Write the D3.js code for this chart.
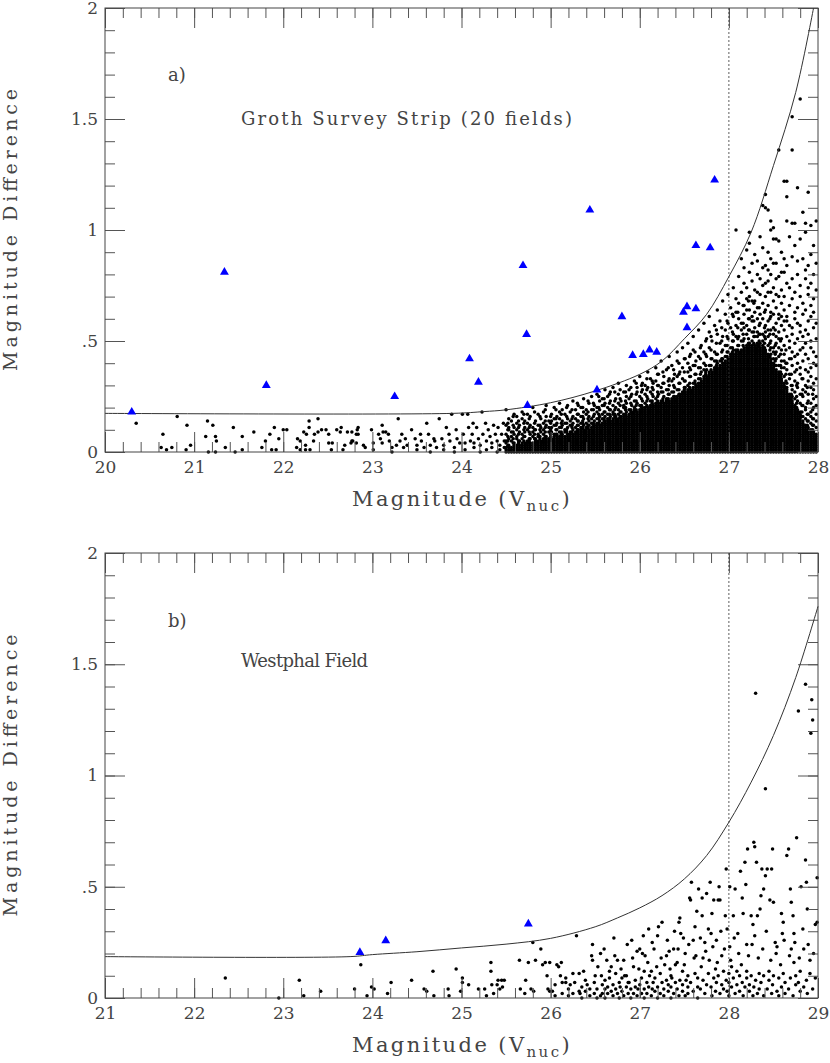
<!DOCTYPE html>
<html>
<head>
<meta charset="utf-8">
<script src="https://cdn.jsdelivr.net/npm/d3@7"></script>
<style>
  body { margin: 0; background: #fff; }
  svg { display: block; }
</style>
</head>
<body>
<svg id="svg1" width="830" height="1063"></svg>
<script>
// ---- data ----
// dot columns: first entry is the magnitude, the rest are the magnitude differences at that magnitude

var grothSparse = [
  [20.35,.13],[20.63,.02],[20.65,.08],[20.69,.01],[20.75,.02],[20.81,.16],[20.91,.01],[20.92,.12],[20.96,.03],
  [21.13,.07],[21.15,.14],[21.16,.00],[21.21,.12],[21.24,.07,.00],[21.25,.05],[21.35,.02],[21.44,.11],[21.46,.00],
  [21.54,.07,.01],[21.67,.09],[21.76,.02],[21.80,.05],[21.85,.08],[21.87,.01],[21.90,.11],[21.92,.01],[21.95,.06],
  [22.00,.10],[22.04,.10],[22.15,.02],[22.16,.06],[22.19,.05,.01],[22.23,.09],[22.25,.03,.01],[22.26,.08],
  [22.29,.14,.11],[22.30,.01],[22.34,.05],[22.35,.08],[22.39,.15,.09],[22.43,.10],[22.48,.10],[22.51,.08,.04],
  [22.54,.01],[22.55,.04],[22.60,.10],[22.64,.09],[22.65,.11],[22.67,.01],[22.69,.03],[22.72,.09],[22.76,.04],
  [22.77,.09,.05],[22.78,.05],[22.82,.08,.04],[22.83,.10],[22.84,.08,.11],[22.90,.03],[22.92,.02],[22.99,.10],
  [23.01,.04,.01],[23.07,.08],[23.09,.06],[23.11,.12,.04],[23.12,.09],[23.15,.09],[23.18,.08],[23.19,.05],
  [23.22,.02,.00],[23.27,.03],[23.29,.15],[23.31,.05],[23.33,.08],[23.35,.02],[23.37,.06],[23.39,.03],[23.44,.10],
  [23.48,.06],[23.50,.03,.01],[23.54,.08],[23.55,.05],[23.58,.02],[23.61,.13],[23.63,.08],[23.65,.03,.00],
  [23.69,.06],[23.70,.05],[23.72,.02],[23.75,.15],[23.78,.06],[23.80,.03,.01],[23.83,.11],[23.86,.08],[23.87,.05],
  [23.89,.17],[23.92,.02,.00],[23.94,.10],[23.95,.06],[23.98,.04],[24.01,.17],[24.02,.08],[24.04,.04,.01],
  [24.07,.17],[24.08,.11],[24.10,.05],[24.12,.08],[24.13,.13],[24.14,.02,.04],[24.17,.11],[24.19,.06],
  [24.21,.03,.00],[24.23,.18],[24.24,.08],[24.27,.13],[24.28,.05,.01],[24.30,.10],[24.32,.07],[24.34,.02,.04],
  [24.36,.12],[24.38,.08],[24.40,.05,.00],[24.41,.11],[24.43,.03,.01],[24.45,.08],[24.47,.13],[24.48,.05,.02]
];

// the crowded part: below a certain height the points overlap completely
var grothDense = [
  [24.50,.00,.01,.02,.04,.05,.08,.12,.19],
  [24.53,.00,.01,.02,.03,.06,.10,.11,.15],
  [24.56,.00,.01,.02,.05,.07,.09,.14],
  [24.59,.00,.01,.02,.03,.04,.08,.11,.17],
  [24.62,.00,.01,.02,.03,.06,.07,.10,.13,.16],
  [24.65,.00,.01,.02,.03,.05,.09,.12],
  [24.68,.00,.01,.02,.03,.04,.06,.08,.15,.18],
  [24.71,.00,.01,.02,.03,.04,.07,.09,.11,.14],
  [24.74,.00,.01,.02,.03,.04,.05,.10,.13,.17],
  [24.77,.00,.01,.02,.03,.04,.06,.08,.12,.16],
  [24.80,.00,.01,.02,.03,.04,.07,.09,.11,.20],
  [24.83,.00,.01,.02,.03,.04,.05,.06,.10,.14],
  [24.86,.00,.01,.02,.03,.04,.05,.07,.08,.12,.17],
  [24.89,.00,.01,.02,.03,.04,.05,.09,.11,.15],
  [24.92,.00,.01,.02,.03,.04,.05,.06,.08,.10,.13,.18],
  [24.95,.00,.01,.02,.03,.04,.05,.06,.07,.12,.16,.21],
  [24.98,.00,.01,.02,.03,.04,.05,.06,.09,.11,.14],
  [25.01,.00,.01,.02,.03,.04,.05,.06,.09,.11,.14,.17],
  [25.04,.00,.01,.02,.03,.04,.05,.06,.07,.08,.12,.15,.20],
  [25.07,.00,.01,.02,.03,.04,.05,.06,.07,.08,.10,.13,.16],
  [25.10,.00,.01,.02,.03,.04,.05,.06,.07,.09,.11,.15,.18,.22],
  [25.13,.00,.01,.02,.03,.04,.05,.06,.07,.08,.12,.14,.19],
  [25.16,.00,.01,.02,.03,.04,.05,.06,.07,.09,.10,.13,.17],
  [25.19,.00,.01,.02,.03,.04,.05,.06,.07,.08,.11,.15,.21],
  [25.22,.00,.01,.02,.03,.04,.05,.06,.07,.08,.09,.12,.14,.18],
  [25.25,.00,.01,.02,.03,.04,.05,.06,.07,.08,.10,.13,.16,.23],
  [25.28,.00,.01,.02,.03,.04,.05,.06,.07,.08,.09,.11,.15,.19],
  [25.31,.00,.01,.02,.03,.04,.05,.06,.07,.08,.09,.10,.12,.14,.17,.21],
  [25.34,.00,.01,.02,.03,.04,.05,.06,.07,.08,.09,.10,.11,.13,.16,.20],
  [25.37,.00,.01,.02,.03,.04,.05,.06,.07,.08,.09,.10,.12,.15,.18,.24],
  [25.40,.00,.01,.02,.03,.04,.05,.06,.07,.08,.09,.10,.11,.13,.17,.19],
  [25.43,.00,.01,.02,.03,.04,.05,.06,.07,.08,.09,.10,.12,.14,.16,.22],
  [25.46,.00,.01,.02,.03,.04,.05,.06,.07,.08,.09,.10,.11,.13,.15,.19,.25],
  [25.49,.00,.01,.02,.03,.04,.05,.06,.07,.08,.09,.10,.11,.12,.14,.17,.21],
  [25.52,.00,.01,.02,.03,.04,.05,.06,.07,.08,.09,.10,.11,.12,.13,.15,.18,.20,.26],
  [25.55,.00,.01,.02,.03,.04,.05,.06,.07,.08,.09,.10,.11,.12,.14,.16,.19,.23],
  [25.58,.00,.01,.02,.03,.04,.05,.06,.07,.08,.09,.10,.11,.12,.13,.15,.17,.21,.24],
  [25.61,.00,.01,.02,.03,.04,.05,.06,.07,.08,.09,.10,.11,.12,.13,.14,.16,.18,.22,.28],
  [25.64,.00,.01,.02,.03,.04,.05,.06,.07,.08,.09,.10,.11,.12,.13,.14,.15,.17,.20,.25],
  [25.67,.00,.01,.02,.03,.04,.05,.06,.07,.08,.09,.10,.11,.12,.13,.14,.16,.19,.23,.27],
  [25.70,.00,.01,.02,.03,.04,.05,.06,.07,.08,.09,.10,.11,.12,.13,.14,.15,.17,.18,.21,.29],
  [25.73,.00,.01,.02,.03,.04,.05,.06,.07,.08,.09,.10,.11,.12,.13,.14,.15,.16,.20,.24],
  [25.76,.00,.01,.02,.03,.04,.05,.06,.07,.08,.09,.10,.11,.12,.13,.14,.15,.17,.19,.22,.26,.31],
  [25.79,.00,.01,.02,.03,.04,.05,.06,.07,.08,.09,.10,.11,.12,.13,.14,.15,.16,.18,.23],
  [25.82,.00,.01,.02,.03,.04,.05,.06,.07,.08,.09,.10,.11,.12,.13,.14,.15,.16,.17,.20,.21,.27],
  [25.85,.00,.01,.02,.03,.04,.05,.06,.07,.08,.09,.10,.11,.12,.13,.14,.15,.16,.18,.22,.25,.30],
  [25.88,.00,.01,.02,.03,.04,.05,.06,.07,.08,.09,.10,.11,.12,.13,.14,.15,.16,.17,.19,.24,.28],
  [25.91,.00,.01,.02,.03,.04,.05,.06,.07,.08,.09,.10,.11,.12,.13,.14,.15,.16,.17,.18,.21,.26],
  [25.94,.00,.01,.02,.03,.04,.05,.06,.07,.08,.09,.10,.11,.12,.13,.14,.15,.16,.17,.18,.19,.20,.23,.32],
  [25.97,.00,.01,.02,.03,.04,.05,.06,.07,.08,.09,.10,.11,.12,.13,.14,.15,.16,.17,.18,.22,.27,.29],
  [26.00,.00,.01,.02,.03,.04,.05,.06,.07,.08,.09,.10,.11,.12,.13,.14,.15,.16,.17,.18,.19,.21,.25,.34],
  [26.03,.00,.01,.02,.03,.04,.05,.06,.07,.08,.09,.10,.11,.12,.13,.14,.15,.16,.17,.18,.19,.20,.23,.28,.31],
  [26.06,.00,.01,.02,.03,.04,.05,.06,.07,.08,.09,.10,.11,.12,.13,.14,.15,.16,.17,.18,.19,.20,.22,.26,.30],
  [26.09,.00,.01,.02,.03,.04,.05,.06,.07,.08,.09,.10,.11,.12,.13,.14,.15,.16,.17,.18,.19,.20,.24,.29,.36],
  [26.12,.00,.01,.02,.03,.04,.05,.06,.07,.08,.09,.10,.11,.12,.13,.14,.15,.16,.17,.18,.19,.20,.21,.23,.27,.33],
  [26.15,.00,.01,.02,.03,.04,.05,.06,.07,.08,.09,.10,.11,.12,.13,.14,.15,.16,.17,.18,.19,.20,.21,.25,.28,.31],
  [26.18,.00,.01,.02,.03,.04,.05,.06,.07,.08,.09,.10,.11,.12,.13,.14,.15,.16,.17,.18,.19,.20,.21,.22,.24,.32,.38],
  [26.21,.00,.01,.02,.03,.04,.05,.06,.07,.08,.09,.10,.11,.12,.13,.14,.15,.16,.17,.18,.19,.20,.21,.22,.26,.30,.35],
  [26.24,.00,.01,.02,.03,.04,.05,.06,.07,.08,.09,.10,.11,.12,.13,.14,.15,.16,.17,.18,.19,.20,.21,.22,.23,.27,.29,.41],
  [26.27,.00,.01,.02,.03,.04,.05,.06,.07,.08,.09,.10,.11,.12,.13,.14,.15,.16,.17,.18,.19,.20,.21,.22,.25,.31,.34],
  [26.30,.00,.01,.02,.03,.04,.05,.06,.07,.08,.09,.10,.11,.12,.13,.14,.15,.16,.17,.18,.19,.20,.21,.22,.23,.24,.28,.37],
  [26.33,.00,.01,.02,.03,.04,.05,.06,.07,.08,.09,.10,.11,.12,.13,.14,.15,.16,.17,.18,.19,.20,.21,.22,.23,.26,.30,.33,.43],
  [26.36,.00,.01,.02,.03,.04,.05,.06,.07,.08,.09,.10,.11,.12,.13,.14,.15,.16,.17,.18,.19,.20,.21,.22,.23,.24,.27,.32,.39],
  [26.39,.00,.01,.02,.03,.04,.05,.06,.07,.08,.09,.10,.11,.12,.13,.14,.15,.16,.17,.18,.19,.20,.21,.22,.23,.24,.25,.29,.35],
  [26.42,.00,.01,.02,.03,.04,.05,.06,.07,.08,.09,.10,.11,.12,.13,.14,.15,.16,.17,.18,.19,.20,.21,.22,.23,.24,.25,.28,.34,.41,.45],
  [26.45,.00,.01,.02,.03,.04,.05,.06,.07,.08,.09,.10,.11,.12,.13,.14,.15,.16,.17,.18,.19,.20,.21,.22,.23,.24,.25,.26,.31,.36],
  [26.48,.00,.01,.02,.03,.04,.05,.06,.07,.08,.09,.10,.11,.12,.13,.14,.15,.16,.17,.18,.19,.20,.21,.22,.23,.24,.25,.26,.27,.33,.38,.47],
  [26.51,.00,.01,.02,.03,.04,.05,.06,.07,.08,.09,.10,.11,.12,.13,.14,.15,.16,.17,.18,.19,.20,.21,.22,.23,.24,.25,.26,.27,.29,.32,.42],
  [26.54,.00,.01,.02,.03,.04,.05,.06,.07,.08,.09,.10,.11,.12,.13,.14,.15,.16,.17,.18,.19,.20,.21,.22,.23,.24,.25,.26,.27,.28,.30,.36,.40,.49],
  [26.57,.00,.01,.02,.03,.04,.05,.06,.07,.08,.09,.10,.11,.12,.13,.14,.15,.16,.17,.18,.19,.20,.21,.22,.23,.24,.25,.26,.27,.28,.34,.37,.44],
  [26.60,.00,.01,.02,.03,.04,.05,.06,.07,.08,.09,.10,.11,.12,.13,.14,.15,.16,.17,.18,.19,.20,.21,.22,.23,.24,.25,.26,.27,.28,.29,.31,.39,.46,.52],
  [26.63,.00,.01,.02,.03,.04,.05,.06,.07,.08,.09,.10,.11,.12,.13,.14,.15,.16,.17,.18,.19,.20,.21,.22,.23,.24,.25,.26,.27,.28,.29,.30,.35,.41],
  [26.66,.00,.01,.02,.03,.04,.05,.06,.07,.08,.09,.10,.11,.12,.13,.14,.15,.16,.17,.18,.19,.20,.21,.22,.23,.24,.25,.26,.27,.28,.29,.30,.31,.33,.38,.43,.55],
  [26.69,.00,.01,.02,.03,.04,.05,.06,.07,.08,.09,.10,.11,.12,.13,.14,.15,.16,.17,.18,.19,.20,.21,.22,.23,.24,.25,.26,.27,.28,.29,.30,.31,.32,.36,.48],
  [26.72,.00,.01,.02,.03,.04,.05,.06,.07,.08,.09,.10,.11,.12,.13,.14,.15,.16,.17,.18,.19,.20,.21,.22,.23,.24,.25,.26,.27,.28,.29,.30,.31,.32,.33,.34,.37,.40,.45,.58],
  [26.75,.00,.01,.02,.03,.04,.05,.06,.07,.08,.09,.10,.11,.12,.13,.14,.15,.16,.17,.18,.19,.20,.21,.22,.23,.24,.25,.26,.27,.28,.29,.30,.31,.32,.33,.34,.37,.43,.51],
  [26.78,.00,.01,.02,.03,.04,.05,.06,.07,.08,.09,.10,.11,.12,.13,.14,.15,.16,.17,.18,.19,.20,.21,.22,.23,.24,.25,.26,.27,.28,.29,.30,.31,.32,.33,.34,.35,.36,.39,.47,.54,.61],
  [26.81,.00,.01,.02,.03,.04,.05,.06,.07,.08,.09,.10,.11,.12,.13,.14,.15,.16,.17,.18,.19,.20,.21,.22,.23,.24,.25,.26,.27,.28,.29,.30,.31,.32,.33,.34,.35,.36,.42,.50],
  [26.84,.00,.01,.02,.03,.04,.05,.06,.07,.08,.09,.10,.11,.12,.13,.14,.15,.16,.17,.18,.19,.20,.21,.22,.23,.24,.25,.26,.27,.28,.29,.30,.31,.32,.33,.34,.35,.36,.37,.38,.41,.45,.57],
  [26.87,.00,.01,.02,.03,.04,.05,.06,.07,.08,.09,.10,.11,.12,.13,.14,.15,.16,.17,.18,.19,.20,.21,.22,.23,.24,.25,.26,.27,.28,.29,.30,.31,.32,.33,.34,.35,.36,.37,.38,.40,.44,.53,.64],
  [26.90,.00,.01,.02,.03,.04,.05,.06,.07,.08,.09,.10,.11,.12,.13,.14,.15,.16,.17,.18,.19,.20,.21,.22,.23,.24,.25,.26,.27,.28,.29,.30,.31,.32,.33,.34,.35,.36,.37,.38,.39,.41,.49,.59],
  [26.93,.00,.01,.02,.03,.04,.05,.06,.07,.08,.09,.10,.11,.12,.13,.14,.15,.16,.17,.18,.19,.20,.21,.22,.23,.24,.25,.26,.27,.28,.29,.30,.31,.32,.33,.34,.35,.36,.37,.38,.39,.40,.42,.46,.52,.68],
  [26.96,.00,.01,.02,.03,.04,.05,.06,.07,.08,.09,.10,.11,.12,.13,.14,.15,.16,.17,.18,.19,.20,.21,.22,.23,.24,.25,.26,.27,.28,.29,.30,.31,.32,.33,.34,.35,.36,.37,.38,.39,.40,.41,.43,.48,.55,.62],
  [26.99,.00,.01,.02,.03,.04,.05,.06,.07,.08,.09,.10,.11,.12,.13,.14,.15,.16,.17,.18,.19,.20,.21,.22,.23,.24,.25,.26,.27,.28,.29,.30,.31,.32,.33,.34,.35,.36,.37,.38,.39,.40,.41,.42,.45,.51,.58,.71],
  [27.02,.00,.01,.02,.03,.04,.05,.06,.07,.08,.09,.10,.11,.12,.13,.14,.15,.16,.17,.18,.19,.20,.21,.22,.23,.24,.25,.26,.27,.28,.29,.30,.31,.32,.33,.34,.35,.36,.37,.38,.39,.40,.41,.42,.43,.44,.47,.56,.65],
  [27.05,.00,.01,.02,.03,.04,.05,.06,.07,.08,.09,.10,.11,.12,.13,.14,.15,.16,.17,.18,.19,.20,.21,.22,.23,.24,.25,.26,.27,.28,.29,.30,.31,.32,.33,.34,.35,.36,.37,.38,.39,.40,.41,.42,.43,.44,.46,.50,.53,.61,.74],
  [27.08,.00,.01,.02,.03,.04,.05,.06,.07,.08,.09,.10,.11,.12,.13,.14,.15,.16,.17,.18,.19,.20,.21,.22,.23,.24,.25,.26,.27,.28,.29,.30,.31,.32,.33,.34,.35,.36,.37,.38,.39,.40,.41,.42,.43,.44,.45,.46,.52,.57,.63,.69,1.00],
  [27.11,.00,.01,.02,.03,.04,.05,.06,.07,.08,.09,.10,.11,.12,.13,.14,.15,.16,.17,.18,.19,.20,.21,.22,.23,.24,.25,.26,.27,.28,.29,.30,.31,.32,.33,.34,.35,.36,.37,.38,.39,.40,.41,.42,.43,.44,.45,.48,.52,.60,.67,.79],
  [27.14,.00,.01,.02,.03,.04,.05,.06,.07,.08,.09,.10,.11,.12,.13,.14,.15,.16,.17,.18,.19,.20,.21,.22,.23,.24,.25,.26,.27,.28,.29,.30,.31,.32,.33,.34,.35,.36,.37,.38,.39,.40,.41,.42,.43,.44,.45,.46,.50,.55,.58,.72,.87],
  [27.17,.00,.01,.02,.03,.04,.05,.06,.07,.08,.09,.10,.11,.12,.13,.14,.15,.16,.17,.18,.19,.20,.21,.22,.23,.24,.25,.26,.27,.28,.29,.30,.31,.32,.33,.34,.35,.36,.37,.38,.39,.40,.41,.42,.43,.44,.45,.46,.47,.51,.56,.62,.66,.76,.83],
  [27.20,.00,.01,.02,.03,.04,.05,.06,.07,.08,.09,.10,.11,.12,.13,.14,.15,.16,.17,.18,.19,.20,.21,.22,.23,.24,.25,.26,.27,.28,.29,.30,.31,.32,.33,.34,.35,.36,.37,.38,.39,.40,.41,.42,.43,.44,.45,.46,.47,.48,.53,.57,.64,.69,.74,.91],
  [27.23,.00,.01,.02,.03,.04,.05,.06,.07,.08,.09,.10,.11,.12,.13,.14,.15,.16,.17,.18,.19,.20,.21,.22,.23,.24,.25,.26,.27,.28,.29,.30,.31,.32,.33,.34,.35,.36,.37,.38,.39,.40,.41,.42,.43,.44,.45,.46,.47,.48,.49,.55,.60,.64,.70,.81,.94,.99],
  [27.26,.00,.01,.02,.03,.04,.05,.06,.07,.08,.09,.10,.11,.12,.13,.14,.15,.16,.17,.18,.19,.20,.21,.22,.23,.24,.25,.26,.27,.28,.29,.30,.31,.32,.33,.34,.35,.36,.37,.38,.39,.40,.41,.42,.43,.44,.45,.46,.47,.48,.50,.54,.59,.61,.68,.77,.85],
  [27.29,.00,.01,.02,.03,.04,.05,.06,.07,.08,.09,.10,.11,.12,.13,.14,.15,.16,.17,.18,.19,.20,.21,.22,.23,.24,.25,.26,.27,.28,.29,.30,.31,.32,.33,.34,.35,.36,.37,.38,.39,.40,.41,.42,.43,.44,.45,.46,.47,.48,.52,.56,.63,.68,.73,.89],
  [27.32,.00,.01,.02,.03,.04,.05,.06,.07,.08,.09,.10,.11,.12,.13,.14,.15,.16,.17,.18,.19,.20,.21,.22,.23,.24,.25,.26,.27,.28,.29,.30,.31,.32,.33,.34,.35,.36,.37,.38,.39,.40,.41,.42,.43,.44,.45,.46,.47,.48,.49,.52,.54,.60,.65,.72,.80,.86],
  [27.35,.00,.01,.02,.03,.04,.05,.06,.07,.08,.09,.10,.11,.12,.13,.14,.15,.16,.17,.18,.19,.20,.21,.22,.23,.24,.25,.26,.27,.28,.29,.30,.31,.32,.33,.34,.35,.36,.37,.38,.39,.40,.41,.42,.43,.44,.45,.46,.47,.49,.53,.58,.62,.71,.78,.97],
  [27.38,.00,.01,.02,.03,.04,.05,.06,.07,.08,.09,.10,.11,.12,.13,.14,.15,.16,.17,.18,.19,.20,.21,.22,.23,.24,.25,.26,.27,.28,.29,.30,.31,.32,.33,.34,.35,.36,.37,.38,.39,.40,.41,.42,.43,.44,.45,.46,.47,.48,.50,.53,.60,.67,.75,.83,.92,1.11],
  [27.41,.00,.01,.02,.03,.04,.05,.06,.07,.08,.09,.10,.11,.12,.13,.14,.15,.16,.17,.18,.19,.20,.21,.22,.23,.24,.25,.26,.27,.28,.29,.30,.31,.32,.33,.34,.35,.36,.37,.38,.39,.40,.41,.42,.43,.44,.45,.46,.51,.54,.57,.64,.70,.76,.84,1.10,1.16],
  [27.44,.00,.01,.02,.03,.04,.05,.06,.07,.08,.09,.10,.11,.12,.13,.14,.15,.16,.17,.18,.19,.20,.21,.22,.23,.24,.25,.26,.27,.28,.29,.30,.31,.32,.33,.34,.35,.36,.37,.38,.39,.40,.41,.42,.43,.44,.48,.52,.55,.59,.66,.72,.77,.82,.90,1.09],
  [27.47,.00,.01,.02,.03,.04,.05,.06,.07,.08,.09,.10,.11,.12,.13,.14,.15,.16,.17,.18,.19,.20,.21,.22,.23,.24,.25,.26,.27,.28,.29,.30,.31,.32,.33,.34,.35,.36,.37,.38,.39,.40,.41,.42,.44,.47,.50,.55,.61,.63,.72,.80,.87,1.00,1.04],
  [27.50,.00,.01,.02,.03,.04,.05,.06,.07,.08,.09,.10,.11,.12,.13,.14,.15,.16,.17,.18,.19,.20,.21,.22,.23,.24,.25,.26,.27,.28,.29,.30,.31,.32,.33,.34,.35,.36,.37,.38,.39,.40,.42,.45,.47,.53,.56,.62,.68,.74,.85,.96,1.01],
  [27.53,.00,.01,.02,.03,.04,.05,.06,.07,.08,.09,.10,.11,.12,.13,.14,.15,.16,.17,.18,.19,.20,.21,.22,.23,.24,.25,.26,.27,.28,.29,.30,.31,.32,.33,.34,.35,.36,.37,.39,.42,.45,.49,.52,.58,.65,.71,.78,.85,.96],
  [27.56,.00,.01,.02,.03,.04,.05,.06,.07,.08,.09,.10,.11,.12,.13,.14,.15,.16,.17,.18,.19,.20,.21,.22,.23,.24,.25,.26,.27,.28,.29,.30,.31,.32,.33,.34,.35,.36,.39,.43,.47,.51,.54,.60,.62,.70,.79,.95,1.36],
  [27.59,.00,.01,.02,.03,.04,.05,.06,.07,.08,.09,.10,.11,.12,.13,.14,.15,.16,.17,.18,.19,.20,.21,.22,.23,.24,.25,.26,.27,.28,.29,.30,.31,.32,.33,.35,.38,.41,.46,.51,.57,.61,.67,.73,.81,.90],
  [27.62,.00,.01,.02,.03,.04,.05,.06,.07,.08,.09,.10,.11,.12,.13,.14,.15,.16,.17,.18,.19,.20,.21,.22,.23,.24,.25,.26,.27,.28,.29,.30,.31,.34,.38,.41,.44,.48,.55,.59,.64,.70,.81,.87,1.22],
  [27.65,.00,.01,.02,.03,.04,.05,.06,.07,.08,.09,.10,.11,.12,.13,.14,.15,.16,.17,.18,.19,.20,.21,.22,.23,.24,.25,.26,.27,.28,.29,.31,.37,.40,.52,.59,.61,.76,.84,1.04,1.15,1.22],
  [27.68,.00,.01,.02,.03,.04,.05,.06,.07,.08,.09,.10,.11,.12,.13,.14,.15,.16,.17,.18,.19,.20,.21,.22,.23,.24,.25,.26,.33,.35,.42,.47,.50,.57,.66,.74,.97],
  [27.71,.00,.01,.02,.03,.04,.05,.06,.07,.08,.09,.10,.11,.12,.13,.14,.15,.16,.17,.18,.19,.20,.21,.22,.23,.25,.28,.30,.39,.45,.53,.56,.69,.78,.88,1.03,1.36,1.51],
  [27.74,.00,.01,.02,.03,.04,.05,.06,.07,.08,.09,.10,.11,.12,.13,.14,.15,.16,.17,.18,.19,.20,.21,.24,.27,.32,.36,.43,.49,.60,.63,.72,.93,1.03],
  [27.77,.00,.01,.02,.03,.04,.05,.06,.07,.08,.09,.10,.11,.12,.13,.14,.15,.16,.17,.18,.19,.23,.29,.31,.40,.44,.51,.58,.65,.80,.86,1.19],
  [27.80,.00,.01,.02,.03,.04,.05,.06,.07,.08,.09,.10,.11,.12,.13,.14,.15,.16,.17,.18,.22,.26,.35,.38,.46,.54,.57,.70,.75,.96,1.59],
  [27.83,.00,.01,.02,.03,.04,.05,.06,.07,.08,.09,.10,.11,.12,.13,.14,.16,.21,.25,.28,.33,.41,.47,.52,.62,.67,.87,1.08],
  [27.86,.00,.01,.02,.03,.04,.05,.06,.07,.08,.09,.10,.11,.12,.15,.19,.20,.27,.30,.37,.44,.49,.55,.64,.78,.82,.99,1.03],
  [27.89,.00,.01,.02,.03,.04,.05,.06,.07,.08,.09,.10,.11,.14,.17,.23,.26,.32,.36,.42,.53,.59,.71,.74,.84,1.17],
  [27.92,.00,.01,.02,.03,.04,.05,.06,.07,.08,.09,.10,.13,.16,.18,.22,.29,.34,.38,.47,.50,.61,.66,.76,.89,1.02],
  [27.95,.00,.01,.02,.03,.04,.05,.06,.07,.08,.09,.12,.15,.20,.24,.28,.31,.40,.45,.56,.63,.69,.80,.93],
  [27.98,.00,.01,.02,.03,.04,.05,.06,.07,.08,.11,.14,.17,.21,.25,.33,.39,.43,.51,.58,.73,.85,1.04]
];

// points just above the crowded part, where it thins out
var grothFringe = [
  [24.52,.03,.05,.07,.10,.13],[24.58,.04,.06,.09,.12,.16],[24.64,.04,.05,.08,.11,.14],[24.70,.05,.07,.10,.13,.17],
  [24.76,.05,.06,.09,.11,.15],[24.82,.06,.08,.10,.13,.18],[24.88,.06,.07,.10,.12,.16],[24.94,.07,.09,.11,.14,.19],
  [25.00,.07,.08,.10,.13,.16],[25.06,.08,.10,.12,.15,.19],[25.12,.08,.09,.11,.13,.17],[25.18,.09,.10,.13,.16,.20],
  [25.24,.09,.11,.12,.15,.19],[25.30,.10,.12,.14,.17,.22],[25.36,.11,.13,.14,.16,.20],[25.42,.11,.12,.15,.18,.23],
  [25.48,.12,.13,.16,.19,.22],[25.54,.13,.15,.17,.20,.25],[25.60,.14,.15,.18,.21,.24],[25.66,.15,.17,.19,.22,.26],
  [25.72,.16,.17,.19,.23,.27],[25.78,.16,.18,.21,.24,.28],[25.84,.17,.19,.20,.23,.27],[25.90,.18,.19,.22,.25,.29],
  [25.96,.19,.21,.23,.26,.31],[26.02,.20,.21,.24,.27,.30],[26.08,.21,.23,.25,.28,.33],[26.14,.22,.23,.26,.29,.32],
  [26.20,.23,.25,.27,.30,.35],[26.26,.23,.24,.27,.31,.36],[26.32,.24,.26,.28,.32,.38],[26.38,.25,.27,.30,.33,.37],
  [26.44,.26,.28,.31,.35,.40],[26.50,.28,.29,.32,.36,.42],[26.56,.29,.31,.34,.38,.43],[26.62,.31,.32,.35,.39,.45],
  [26.68,.33,.35,.38,.42,.47],[26.74,.35,.36,.39,.44,.50],[26.80,.37,.39,.42,.46,.52],[26.86,.39,.41,.44,.49,.55],
  [26.92,.41,.42,.45,.50,.56],[26.98,.43,.45,.48,.52,.59],[27.04,.45,.47,.50,.54,.62],[27.10,.46,.48,.51,.56,.63],
  [27.16,.48,.50,.53,.58,.66],[27.22,.49,.51,.55,.60,.68],[27.28,.49,.52,.54,.59,.67],[27.34,.48,.50,.53,.57,.65],
  [27.40,.47,.49,.52,.56,.63],[27.46,.43,.46,.49,.53,.60],[27.52,.39,.41,.44,.48,.55],[27.58,.34,.36,.39,.44,.50],
  [27.64,.29,.32,.35,.40,.46],[27.70,.24,.26,.30,.35,.42],[27.76,.20,.22,.25,.30,.37],[27.82,.16,.18,.21,.26,.33],
  [27.88,.12,.14,.17,.22,.29],[27.94,.10,.12,.15,.19,.26]
];

var grothTriMag  = [20.30, 21.34, 21.81, 23.25, 24.09, 24.19, 24.69, 24.73, 24.74, 25.44, 25.52, 25.80,
                    25.92, 26.04, 26.11, 26.19, 26.49, 26.53, 26.53, 26.63, 26.63, 26.79, 26.84];
var grothTriDiff = [.18, .81, .30, .25, .42, .315, .84, .53, .21, 1.09, .28, .61,
                    .435, .44, .46, .45, .63, .655, .56, .645, .93, .92, 1.225];

var grothLimitMag  = [20, 23.9, 24.25, 24.5, 25, 25.5, 26, 26.25, 26.5, 26.75, 27, 27.25, 27.5, 27.75, 27.95];
var grothLimitDiff = [.174, .174, .182, .19, .222, .275, .35, .41, .51, .62, .79, .99, 1.29, 1.62, 2.0];

var westDots = [
  [22.35,.09],[22.95,.00],[23.18,.08],[23.23,.01],[23.42,.03],[23.80,.04],[23.87,.15],[23.94,.01],[23.99,.05],
  [24.02,.04],[24.17,.02],[24.21,.07],[24.44,.08],[24.58,.04],[24.61,.03],[24.68,.12],[24.69,.01],[24.85,.04],
  [24.86,.01],[24.94,.13],[24.99,.03],[25.01,.09,.07],[25.08,.06],[25.19,.04],[25.26,.04],[25.28,.01],
  [25.33,.16,.12],[25.34,.06],[25.36,.02],[25.40,.06],[25.41,.08],[25.43,.04],[25.45,.08],[25.46,.05],[25.48,.08],
  [25.65,.17],[25.66,.04],[25.71,.02],[25.72,.08],[25.75,.16],[25.78,.04],[25.80,.25],[25.81,.03],[25.83,.17],
  [25.89,.22],[25.91,.15],[25.94,.16],[25.96,.10],[25.97,.04],[25.99,.16,.03],[26.02,.03],[26.05,.01,.06],
  [26.07,.15],[26.09,.14],[26.11,.10],[26.12,.16],[26.13,.07,.02],[26.17,.07,.09],[26.20,.01,.04],[26.22,.06],
  [26.25,.02,.11],[26.27,.07],[26.29,.28],[26.32,.11,.03],[26.33,.02],[26.35,.05,.00],[26.37,.12],[26.39,.03,.08],
  [26.41,.06],[26.44,.01,.04],[26.46,.19],[26.47,.24,.17],[26.49,.02,.07],[26.50,.10],[26.52,.04,.00],
  [26.56,.20,.01],[26.57,.10],[26.58,.02,.06],[26.61,.04,.08,.00],[26.63,.17],[26.64,.02,.05],[26.66,.09],
  [26.68,.14,.03],[26.70,.01,.06],[26.72,.19],[26.73,.04,.11],[26.75,.17,.02],[26.77,.07,.00],[26.78,.05],
  [26.80,.03,.09],[26.82,.17,.01],[26.83,.10],[26.85,.10,.05],[26.87,.02,.07],[26.88,.07],[26.90,.04,.00],
  [26.91,.26],[26.93,.14,.02],[26.95,.08,.05],[26.97,.21,.01],[26.98,.04],[27.00,.22,.06],[27.02,.02,.09],
  [27.03,.20],[27.05,.04,.12,.00],[27.06,.19],[27.08,.07,.02],[27.10,.31,.05],[27.11,.10],[27.13,.12,.01],
  [27.14,.25,.04],[27.15,.07],[27.17,.03,.09],[27.20,.28,.05,.00],[27.21,.32],[27.23,.02,.11],[27.25,.34,.07],
  [27.27,.04,.01],[27.28,.15],[27.30,.19,.08],[27.32,.03,.06],[27.33,.21],[27.35,.00,.10,.05],[27.36,.09],
  [27.38,.22,.02],[27.40,.15,.07],[27.42,.16,.04],[27.44,.34,.01],[27.45,.36,.08],[27.46,.29],[27.48,.03,.06,.12],
  [27.49,.27],[27.51,.20,.01],[27.52,.08],[27.54,.05,.10,.02],[27.56,.45],[27.57,.44,.07],[27.58,.52],
  [27.60,.26,.03],[27.62,.32,.11],[27.63,.19],[27.65,.05,.00,.09],[27.66,.49],[27.68,.27,.04],[27.70,.45,.37],
  [27.71,.18,.08],[27.73,.25,.02],[27.75,.47,.06],[27.77,.31,.11],[27.79,.52],[27.80,.29,.05],[27.81,.38,.01],
  [27.83,.44,.09],[27.85,.13,.03],[27.86,.26,.07],[27.88,.44,.10],[27.89,.50],[27.90,.44,.02],[27.92,.19,.06],
  [27.94,.04,.12],[27.96,.37],[27.97,.58,.08],[27.98,.31,.03],[28.00,.07,.11,.01],[28.01,.50,.23],[28.03,.05,.14],
  [28.05,.37,.09],[28.07,.49,.02],[28.09,.06,.12],[28.10,.29],[28.12,.03,.10],[28.13,.57],[28.15,.45,.07],
  [28.16,.38,.01],[28.18,.61,.05],[28.19,.51],[28.20,.24,.09,.12],[28.21,.67],[28.23,.03,.06],[28.25,.37,.10],
  [28.27,.33,.01],[28.28,.70,.05],[28.29,.68,.28],[28.30,1.37,.08],[28.31,.61],[28.32,.37,.02],[28.34,.11,.04],
  [28.35,.40],[28.36,.46,.07],[28.37,.58],[28.39,.49,.01,.10],[28.41,.55,.94],[28.43,.58,.04],[28.45,.08,.12],
  [28.46,.44],[28.48,.58,.02],[28.49,.67,.06],[28.50,.43,.10],[28.52,.25],[28.54,.23,.03],[28.56,.09,.01],
  [28.59,.38,.05],[28.60,.29],[28.61,.34,.11],[28.63,.02,.07],[28.65,.64],[28.67,.67,.04],[28.69,.49,.09],
  [28.70,.43,.22],[28.72,.37,.01],[28.73,.16,.29],[28.75,.06,.10],[28.76,.72],[28.78,.07,1.29],[28.80,.03,.12],
  [28.81,.50],[28.84,.22,.05],[28.86,.62,1.41],[28.87,.52,.08],[28.88,.40,.02],[28.91,.17,.11],[28.92,1.19],
  [28.93,1.34],[28.94,1.25,.04],[28.97,.33,.09],[28.99,.54,.34],
  [26.53,.14],[26.60,.22],[26.66,.12],[26.71,.27],[26.79,.13],[26.86,.24],[26.92,.18],[26.99,.13],[27.04,.28],
  [27.09,.16],[27.16,.22],[27.19,.14],[27.24,.18],[27.31,.26],[27.34,.13],[27.39,.30],[27.43,.22],[27.50,.15],
  [27.55,.24],[27.61,.18],[27.64,.39],[27.69,.14],[27.74,.21],[27.78,.17],[27.82,.23],[27.87,.16],[27.91,.30],
  [27.95,.22],[28.02,.17],[28.06,.27],[28.11,.20],[28.14,.15],[28.22,.19],[28.26,.24],[28.33,.18],[28.38,.22],
  [28.42,.30],[28.47,.17],[28.53,.20],[28.58,.15],[28.62,.26],[28.68,.19],[28.74,.25],[28.79,.18],[28.83,.31],
  [28.89,.24],[28.95,.20]
];

var westTriMag  = [23.86, 24.15, 25.75];
var westTriDiff = [.205, .258, .333];

var westLimitMag  = [21, 23.75, 24, 24.5, 25, 25.5, 26, 26.5, 26.75, 27, 27.25, 27.5, 27.75, 28, 28.25, 28.5, 28.75, 29];
var westLimitDiff = [.186, .186, .195, .208, .225, .242, .268, .32, .36, .405, .46, .535, .64, .79, .97, 1.18, 1.44, 1.76];

var grothXTicks = [20, 21, 22, 23, 24, 25, 26, 27, 28];
var westXTicks  = [21, 22, 23, 24, 25, 26, 27, 28, 29];
var yTicks      = [0, .5, 1, 1.5, 2];
var yTickLabels = ['0', '.5', '1', '1.5', '2'];

var font = '"DejaVu Serif", serif';
var ink = '#444';

var svg = d3.select('#svg1');

function drawPanel(p) {
    var x = d3.scaleLinear().domain(p.xDomain).range([105, 818]);
    var y = d3.scaleLinear().domain([0, 2]).range([p.bottom, p.top]);
    var g = svg.append('g');

    // flatten the dot columns
    var pts = [];
    p.dots.forEach(function(c) {
        c.slice(1).forEach(function(v) { pts.push([c[0], v]); });
    });

    g.selectAll('circle')
        .data(pts)
        .enter()
        .append('circle')
        .attr('cx', function(d) { return x(d[0]); })
        .attr('cy', function(d) { return y(d[1]); })
        .attr('r', 1.75)
        .attr('fill', '#000');

    // ticks on all four sides, pointing inward
    var minorX = d3.range(p.xDomain[0], p.xDomain[1] + 0.001, 0.2);
    var minorY = d3.range(0, 2.001, 0.1);

    function axis(fn, scale, values, size, tr, labels, pad) {
        var a = fn(scale).tickValues(values).tickSize(size).tickPadding(pad || 7)
            .tickFormat(labels ? function(d, i) { return labels[i]; } : '');
        var ag = g.append('g').attr('transform', tr).call(a);
        ag.select('.domain').remove();
        ag.attr('font-family', font).attr('font-size', 17).attr('color', ink);
        ag.selectAll('line').attr('stroke', '#555');
    }

    axis(d3.axisBottom, x, minorX, -10, 'translate(0,' + p.bottom + ')');
    axis(d3.axisBottom, x, p.xTicks, -20, 'translate(0,' + p.bottom + ')', p.xTicks.map(String), 9);
    axis(d3.axisTop, x, minorX, -10, 'translate(0,' + p.top + ')');
    axis(d3.axisTop, x, p.xTicks, -20, 'translate(0,' + p.top + ')');
    axis(d3.axisLeft, y, minorY, -10, 'translate(105,0)');
    axis(d3.axisLeft, y, yTicks, -20, 'translate(105,0)', yTickLabels);
    axis(d3.axisRight, y, minorY, -10, 'translate(818,0)');
    axis(d3.axisRight, y, yTicks, -20, 'translate(818,0)');

    g.append('rect')
        .attr('x', 105).attr('y', p.top)
        .attr('width', 713).attr('height', p.bottom - p.top)
        .attr('fill', 'none').attr('stroke', '#444').attr('stroke-width', 1);

    // completeness cut
    g.append('line')
        .attr('x1', x(p.cut)).attr('x2', x(p.cut))
        .attr('y1', p.top).attr('y2', p.bottom)
        .attr('stroke', '#333').attr('stroke-width', 0.8)
        .attr('stroke-dasharray', '2,2');

    // limit curve
    var limit = p.limitMag.map(function(m, i) { return [m, p.limitDiff[i]]; });
    g.append('path')
        .datum(limit)
        .attr('d', d3.line()
            .x(function(d) { return x(d[0]); })
            .y(function(d) { return y(d[1]); })
            .curve(d3.curveCatmullRom))
        .attr('fill', 'none').attr('stroke', '#333').attr('stroke-width', 1);

    // triangles
    var tri = p.triMag.map(function(m, i) { return [m, p.triDiff[i]]; });
    g.selectAll('path.tri')
        .data(tri)
        .enter()
        .append('path')
        .attr('class', 'tri')
        .attr('d', d3.symbol(d3.symbolTriangle, 34))
        .attr('transform', function(d) { return 'translate(' + x(d[0]) + ',' + y(d[1]) + ')'; })
        .attr('fill', '#0000ff');

    // panel texts
    g.append('text')
        .attr('x', 168).attr('y', p.top + p.tagDy)
        .attr('font-family', font).attr('font-size', 18).attr('fill', ink)
        .text(p.tag);
    g.append('text')
        .attr('x', 241).attr('y', p.top + p.titleDy)
        .attr('font-family', font).attr('font-size', 18).attr('fill', ink)
        .attr('textLength', p.titleLen).attr('lengthAdjust', 'spacing')
        .text(p.title);

    // axis titles
    g.append('text')
        .attr('transform', 'translate(17,' + ((p.top + p.bottom) / 2) + ') rotate(-90)')
        .attr('text-anchor', 'middle')
        .attr('font-family', font).attr('font-size', 19).attr('fill', ink)
        .attr('textLength', 282).attr('lengthAdjust', 'spacing')
        .text('Magnitude Difference');

    var xt = g.append('text')
        .attr('x', 352).attr('y', p.bottom + 54)
        .attr('font-family', font).attr('font-size', 21).attr('fill', ink);
    xt.append('tspan').text('Magnitude (V');
    xt.append('tspan').attr('font-size', 15).attr('dy', 5).text('nuc');
    xt.append('tspan').attr('dy', -5).text(')');
    var w = xt.node().getComputedTextLength();
    xt.attr('letter-spacing', Math.max(0, (220 - w) / 16).toFixed(2) + 'px');
}

drawPanel({
    top: 8, bottom: 452, xDomain: [20, 28], xTicks: grothXTicks, cut: 27,
    dots: grothSparse.concat(grothDense, grothFringe),
    triMag: grothTriMag, triDiff: grothTriDiff,
    limitMag: grothLimitMag, limitDiff: grothLimitDiff,
    tag: 'a)', tagDy: 73, title: 'Groth Survey Strip (20 fields)', titleDy: 117, titleLen: 331
});

drawPanel({
    top: 553, bottom: 998, xDomain: [21, 29], xTicks: westXTicks, cut: 28,
    dots: westDots,
    triMag: westTriMag, triDiff: westTriDiff,
    limitMag: westLimitMag, limitDiff: westLimitDiff,
    tag: 'b)', tagDy: 74, title: 'Westphal Field', titleDy: 114, titleLen: 127
});
</script>
</body>
</html>
